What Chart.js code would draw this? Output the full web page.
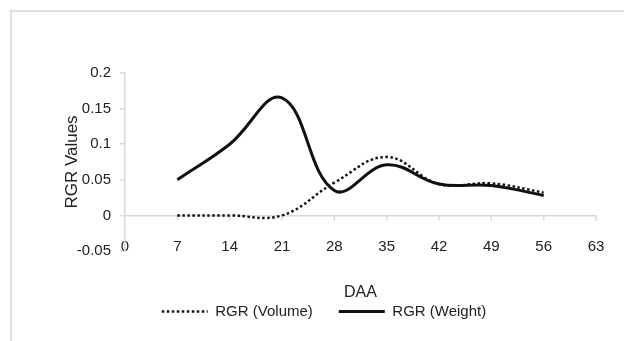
<!DOCTYPE html>
<html lang="en">
<head>
<meta charset="UTF-8">
<script src="https://cdn.jsdelivr.net/npm/chart.js@4.4.1/dist/chart.umd.min.js"></script>
<title>RGR Values</title>
<style>
  html, body { margin: 0; padding: 0; background: #fff; }
  #wrap { position: relative; width: 624px; height: 341px; overflow: hidden; }
  #frame {
    position: absolute; left: 10px; top: 10px; width: 700px; height: 400px;
    border-left: 2px solid #e0e0e0; border-top: 2px solid #e0e0e0;
  }
  #myChart { position: absolute; left: 0; top: 0; }
</style>
</head>
<body>
<div id="wrap">
  <div id="frame"></div>
  <canvas id="myChart" width="624" height="341"></canvas>
</div>
<script>
// days after anthesis
var days = [7, 14, 21, 28, 35, 42, 49, 56];
var rgrVolume = [0, 0, 0, 0.046, 0.082, 0.044, 0.045, 0.032];
var rgrWeight = [0.05, 0.1, 0.165, 0.035, 0.071, 0.044, 0.042, 0.028];

var xMin = 0, xMax = 63, xStep = 7;
var yMin = -0.05, yMax = 0.2, yStep = 0.05;

function pts(vals) {
  return days.map(function (d, i) { return { x: d, y: vals[i] }; });
}

var axisGray = '#d9d9d9';
var txt = '#222';
var font = 'Liberation Sans';

// small tick marks where the x axis crosses y = 0
var zeroTicks = {
  id: 'zeroTicks',
  beforeDatasetsDraw: function (chart) {
    var ctx = chart.ctx, xs = chart.scales.x;
    var y0 = chart.scales.y.getPixelForValue(0);
    ctx.save();
    ctx.strokeStyle = axisGray;
    ctx.lineWidth = 1.5;
    ctx.beginPath();
    xs.ticks.forEach(function (t) {
      if (t.value === 0) return;
      var px = xs.getPixelForValue(t.value);
      ctx.moveTo(px, y0);
      ctx.lineTo(px, y0 + 5);
    });
    ctx.stroke();
    ctx.restore();
  }
};

var ctx = document.getElementById('myChart').getContext('2d');
var myChart = new Chart(ctx, {
  type: 'line',
  data: {
    datasets: [{
      label: 'RGR (Volume)',
      data: pts(rgrVolume),
      borderColor: '#111',
      backgroundColor: '#111',
      borderWidth: 2.5,
      borderDash: [2.5, 2.5],
      pointRadius: 0,
      tension: 0.4,
      fill: false
    }, {
      label: 'RGR (Weight)',
      data: pts(rgrWeight),
      borderColor: '#111',
      backgroundColor: '#111',
      borderWidth: 3,
      pointRadius: 0,
      tension: 0.4,
      fill: false
    }]
  },
  options: {
    responsive: false,
    animation: false,
    layout: { padding: { left: 52, right: 28, top: 73, bottom: 12 } },
    plugins: {
      tooltip: { enabled: false },
      legend: {
        position: 'bottom',
        labels: {
          usePointStyle: true,
          pointStyle: 'line',
          pointStyleWidth: 46,
          padding: 26,
          color: txt,
          font: { family: font, size: 15 },
          generateLabels: function (chart) {
            var items = Chart.defaults.plugins.legend.labels.generateLabels(chart);
            items.forEach(function (it) {
              var ds = chart.data.datasets[it.datasetIndex];
              it.lineDash = ds.borderDash || [];
              it.lineWidth = ds.borderWidth;
              it.strokeStyle = ds.borderColor;
            });
            return items;
          }
        }
      }
    },
    scales: {
      x: {
        type: 'linear',
        min: xMin,
        max: xMax,
        border: { display: false },
        grid: { drawOnChartArea: false, drawTicks: false },
        ticks: {
          stepSize: xStep,
          mirror: true,
          padding: -5,
          color: txt,
          font: { family: font, size: 15 }
        },
        title: {
          display: true,
          text: 'DAA',
          color: txt,
          font: { family: font, size: 16 },
          padding: { top: 0, bottom: -24.6 }
        },
        afterFit: function (s) { s.height = 27; }
      },
      y: {
        min: yMin,
        max: yMax,
        border: { display: true, color: axisGray, width: 1.5 },
        grid: {
          color: function (c) { return c.tick && Math.abs(c.tick.value) < 1e-9 ? axisGray : 'rgba(0,0,0,0)'; },
          lineWidth: 1.5,
          tickColor: axisGray,
          tickLength: 5
        },
        ticks: {
          stepSize: yStep,
          padding: 9,
          color: txt,
          font: { family: font, size: 15 },
          callback: function (v) { return String(+v.toFixed(2)); }
        },
        title: {
          display: true,
          text: 'RGR Values',
          color: txt,
          font: { family: font, size: 17 },
          padding: { top: 10, bottom: 0 }
        },
        afterFit: function (s) { s.width = 73; }
      }
    }
  },
  plugins: [zeroTicks]
});
</script>
</body>
</html>
